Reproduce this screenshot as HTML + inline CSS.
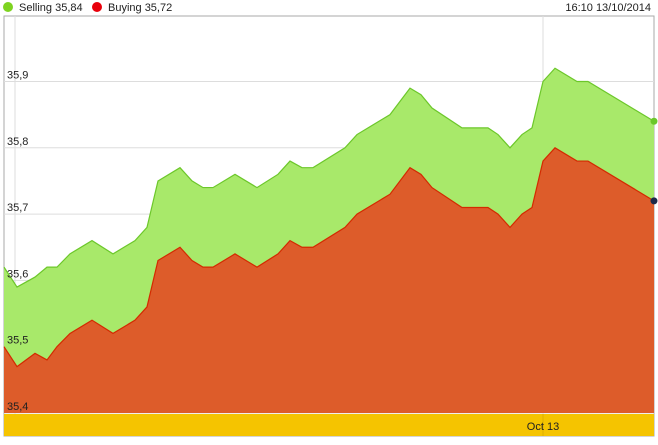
<!DOCTYPE html>
<html><head><meta charset="utf-8"><style>
body{margin:0;background:#fff;width:658px;height:440px;overflow:hidden;font-family:"Liberation Sans",sans-serif}
svg text{font-family:"Liberation Sans",sans-serif;font-size:11px;fill:#222}
</style></head><body>
<svg id="c" width="658" height="440">
<circle cx="8" cy="7" r="5" fill="#7ed321"/>
<text x="19" y="11">Selling 35,84</text>
<circle cx="97" cy="7" r="5" fill="#e8000b"/>
<text x="108" y="11">Buying 35,72</text>
<text x="651" y="11" text-anchor="end">16:10 13/10/2014</text>
<rect x="4" y="16" width="650" height="420" fill="#fff" stroke="#aaa"/>
<g id="grid"></g>
<g id="areas"></g>
<rect x="4" y="414" width="650" height="22" fill="#f5c400"/>
<line x1="543" y1="414" x2="543" y2="436" stroke="#e0b000"/>
<text x="543" y="430" text-anchor="middle">Oct 13</text>
<g id="labels"></g>
</svg>
<script>
const times=[0,13,31,43,53,66,88,109,131,143,154,176,188,199,209,231,253,274,286,298,309,341,353,386,406,417,428,458,484,494,506,518,528,539,551,573,584,650];
const selling=[35.62,35.59,35.605,35.62,35.62,35.64,35.66,35.64,35.66,35.68,35.75,35.77,35.75,35.74,35.74,35.76,35.74,35.76,35.78,35.77,35.77,35.80,35.82,35.85,35.89,35.88,35.86,35.83,35.83,35.82,35.80,35.82,35.83,35.90,35.92,35.90,35.90,35.84];
const buying=[35.50,35.47,35.49,35.48,35.50,35.52,35.54,35.52,35.54,35.56,35.63,35.65,35.63,35.62,35.62,35.64,35.62,35.64,35.66,35.65,35.65,35.68,35.70,35.73,35.77,35.76,35.74,35.71,35.71,35.70,35.68,35.70,35.71,35.78,35.80,35.78,35.78,35.72];
const yTicks=[35.4,35.5,35.6,35.7,35.8,35.9];
const yLabels=["35,4","35,5","35,6","35,7","35,8","35,9"];
</script>
<script>
const NS="http://www.w3.org/2000/svg";
const X=t=>4+t*(650/650);
const Y=v=>413-(v-35.4)*663;
const grid=document.getElementById('grid'),areas=document.getElementById('areas'),labels=document.getElementById('labels');
function mk(tag,a,p){const e=document.createElementNS(NS,tag);for(const k in a)e.setAttribute(k,a[k]);p.appendChild(e);return e;}
yTicks.forEach((v,i)=>{
 const l=mk('line',{x1:4,x2:654,y1:Y(v),y2:Y(v),stroke:'#ddd'},grid);
 
 
 const t=mk('text',{x:7,y:Y(v)-3},labels);t.textContent=yLabels[i];
 
 
});
[15,543].forEach(x=>{const l=mk('line',{x1:x,x2:x,y1:16,y2:414,stroke:'#ddd'},grid);
 
 });
function area(vals,fill,stroke,name){
 const pts=times.map((t,i)=>X(t)+','+Y(vals[i])).join(' ');
 const a=mk('polygon',{points:X(times[0])+','+413+' '+pts+' '+X(times[times.length-1])+','+413,fill:fill},areas);
 
 
 const l=mk('polyline',{points:pts,fill:'none',stroke:stroke,'stroke-width':1.2},areas);
 
 
}
area(selling,'#a8e96a','#6cc72a','selling');
area(buying,'#dd5c2a','#d42a00','buying');
const d1=mk('circle',{cx:X(times[times.length-1]),cy:Y(selling[selling.length-1]),r:3.5,fill:'#6cc72a'},areas);


const d2=mk('circle',{cx:X(times[times.length-1]),cy:Y(buying[buying.length-1]),r:3.5,fill:'#1c2a4a'},areas);


</script>
</body></html>
